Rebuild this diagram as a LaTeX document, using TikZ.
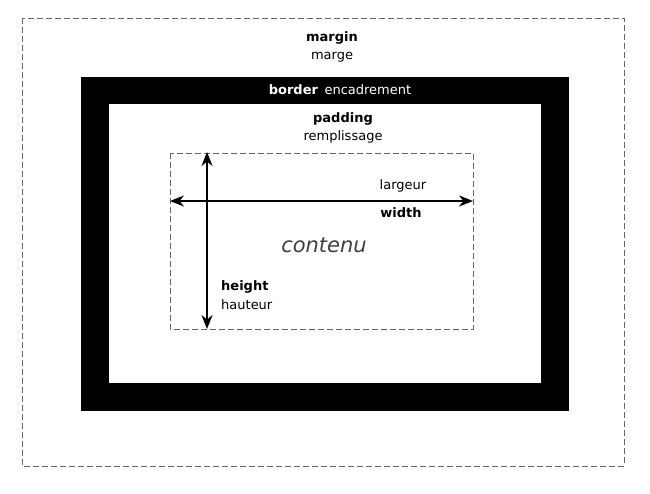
\documentclass[tikz,border=0pt]{standalone}
\usepackage{fontspec}
\setmainfont{DejaVu Sans}
\usetikzlibrary{arrows.meta}
\tikzset{
  box/.style={dash pattern=on 6pt off 3pt, draw=black!60, line width=0.8pt},
  lbl/.style={font=\fontsize{13}{15}\selectfont, inner sep=0pt},
  dim/.style={line width=2pt, {Stealth[length=14pt,width=11pt]}-{Stealth[length=14pt,width=11pt]}}
}
\begin{document}
\begin{tikzpicture}[x=1pt,y=-1pt]
\useasboundingbox (0,0) rectangle (650,493);
% margin
\draw[box] (22,18) rectangle (624,466);
\node[lbl] (margin) at (332,38) {\textbf{margin}};
\node[lbl] (marge) at (332,57) {marge};
% border
\fill[black] (81,77) rectangle (569,411);
\fill[white] (109,104) rectangle (541,383);
\node[lbl,text=white] (border) at (340,90) {\textbf{border}\enspace encadrement};
% padding
\node[lbl] (padding) at (343,119) {\textbf{padding}};
\node[lbl] (rempl) at (343,137) {remplissage};
% content
\draw[box] (170,153) rectangle (473,329);
\coordinate (wl) at (170,201);
\coordinate (wr) at (473,201);
\coordinate (ht) at (207,152);
\coordinate (hb) at (207,329);
\draw[dim] (wl) -- (wr);
\draw[dim] (ht) -- (hb);
\node[lbl] (largeur) at (403,186) {largeur};
\node[lbl] (width) at (401,213) {\textbf{width}};
\node[lbl,font=\fontsize{21}{24}\selectfont\itshape,text=black!75] (contenu) at (324,245) {contenu};
\node[lbl,anchor=west] (height) at (221,287) {\textbf{height}};
\node[lbl,anchor=west] (hauteur) at (221,305) {hauteur};
\end{tikzpicture}
\end{document}
